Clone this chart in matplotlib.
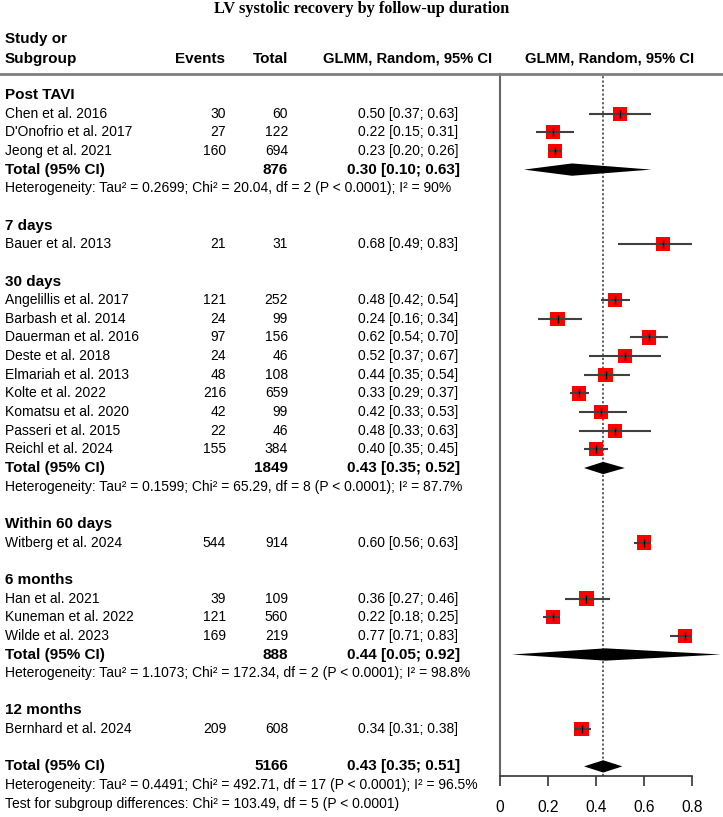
import matplotlib
matplotlib.use("Agg")
import matplotlib.pyplot as plt
from matplotlib.transforms import blended_transform_factory
from matplotlib.lines import Line2D

plt.rcParams['font.family'] = ['Liberation Sans', 'DejaVu Sans']

# ---------------- data ----------------
group_names = ["Post TAVI", "7 days", "30 days", "Within 60 days", "6 months", "12 months"]

study_group = [0, 0, 0, 1, 2, 2, 2, 2, 2, 2, 2, 2, 2, 3, 4, 4, 4, 5]
study_names = ["Chen et al. 2016", "D'Onofrio et al. 2017", "Jeong et al. 2021",
               "Bauer et al. 2013",
               "Angelillis et al. 2017", "Barbash et al. 2014", "Dauerman et al. 2016",
               "Deste et al. 2018", "Elmariah et al. 2013", "Kolte et al. 2022",
               "Komatsu et al. 2020", "Passeri et al. 2015", "Reichl et al. 2024",
               "Witberg et al. 2024",
               "Han et al. 2021", "Kuneman et al. 2022", "Wilde et al. 2023",
               "Bernhard et al. 2024"]
events = [30, 27, 160, 21, 121, 24, 97, 24, 48, 216, 42, 22, 155, 544, 39, 121, 169, 209]
totals = [60, 122, 694, 31, 252, 99, 156, 46, 108, 659, 99, 46, 384, 914, 109, 560, 219, 608]
est = [0.50, 0.22, 0.23, 0.68, 0.48, 0.24, 0.62, 0.52, 0.44, 0.33, 0.42, 0.48, 0.40,
       0.60, 0.36, 0.22, 0.77, 0.34]
lo = [0.37, 0.15, 0.20, 0.49, 0.42, 0.16, 0.54, 0.37, 0.35, 0.29, 0.33, 0.33, 0.35,
      0.56, 0.27, 0.18, 0.71, 0.31]
hi = [0.63, 0.31, 0.26, 0.83, 0.54, 0.34, 0.70, 0.67, 0.54, 0.37, 0.53, 0.63, 0.45,
      0.63, 0.46, 0.25, 0.83, 0.38]

# subgroup pooled results (only groups with >1 study)
sub_n = {0: 876, 2: 1849, 4: 888}
sub_est = {0: 0.30, 2: 0.43, 4: 0.44}
sub_lo = {0: 0.10, 2: 0.35, 4: 0.05}
sub_hi = {0: 0.63, 2: 0.52, 4: 0.92}
sub_het = {0: "Heterogeneity: Tau² = 0.2699; Chi² = 20.04, df = 2 (P < 0.0001); I² = 90%",
           2: "Heterogeneity: Tau² = 0.1599; Chi² = 65.29, df = 8 (P < 0.0001); I² = 87.7%",
           4: "Heterogeneity: Tau² = 1.1073; Chi² = 172.34, df = 2 (P < 0.0001); I² = 98.8%"}

overall_n = 5166
overall_est, overall_lo, overall_hi = 0.43, 0.35, 0.51
overall_het = "Heterogeneity: Tau² = 0.4491; Chi² = 492.71, df = 17 (P < 0.0001); I² = 96.5%"
subgroup_test = "Test for subgroup differences: Chi² = 103.49, df = 5 (P < 0.0001)"

xticks = [0, 0.2, 0.4, 0.6, 0.8]
xticklabels = ["0", "0.2", "0.4", "0.6", "0.8"]

# ---------------- layout ----------------
W, H = 723, 817
fig = plt.figure(figsize=(W / 100, H / 100), dpi=100)
ax_left, ax_right = 500, 692
ax_top, ax_bot = 74, 776
ax = fig.add_axes([ax_left / W, 1 - ax_bot / H, (ax_right - ax_left) / W, (ax_bot - ax_top) / H])
row_h = 18.65
row0 = 95
ax.set_ylim((ax_bot - row0) / row_h, (ax_top - row0) / row_h)
ax.set_xlim(0, 0.8)

FS = 10
FSB = 11
tr = blended_transform_factory(fig.transFigure, ax.transData)
X_STUDY = 5 / W
X_EV = 226 / W
X_TOT = 288 / W
X_CI = 458 / W

def txt(x, r, s, ha="left", bold=False, size=None):
    if size is None:
        size = FSB if bold else FS
    ax.text(x, r, s, transform=tr, ha=ha, va="center", fontsize=size,
            fontweight="bold" if bold else "normal", clip_on=False)

def diamond(r, e, l, h, hh=0.33):
    ax.fill([l, e, h, e], [r, r - hh, r, r + hh], color="black", clip_on=False, zorder=4,
            lw=0)

def fmt(e, l, h):
    return f"{e:.2f} [{l:.2f}; {h:.2f}]"

# headers
txt(X_STUDY, -3.02, "Study or", bold=True)
txt(X_STUDY, -1.95, "Subgroup", bold=True)
txt(225 / W, -1.95, "Events", ha="right", bold=True)
txt(X_TOT, -1.95, "Total", ha="right", bold=True)
txt(492 / W, -1.95, "GLMM, Random, 95% CI", ha="right", bold=True, size=10.6)
txt(610 / W, -1.95, "GLMM, Random, 95% CI", ha="center", bold=True, size=10.6)
fig.add_artist(Line2D([0, 1], [(ax_top - row0) / row_h] * 2, transform=tr,
                      color="#7f7f7f", lw=2))

r = 0
sq_rows, sq_est, sq_lo, sq_hi = [], [], [], []
for g, gname in enumerate(group_names):
    txt(X_STUDY, r, gname, bold=True)
    r += 1
    for i in range(len(study_names)):
        if study_group[i] != g:
            continue
        txt(X_STUDY, r, study_names[i])
        txt(X_EV, r, str(events[i]), ha="right")
        txt(X_TOT, r, str(totals[i]), ha="right")
        txt(X_CI, r, fmt(est[i], lo[i], hi[i]), ha="right")
        sq_rows.append(r); sq_est.append(est[i]); sq_lo.append(lo[i]); sq_hi.append(hi[i])
        r += 1
    if g in sub_n:
        txt(X_STUDY, r, "Total (95% CI)", bold=True)
        txt(X_TOT, r, str(sub_n[g]), ha="right", bold=True)
        txt(X_CI + 2 / W, r, fmt(sub_est[g], sub_lo[g], sub_hi[g]), ha="right", bold=True)
        diamond(r, sub_est[g], sub_lo[g], sub_hi[g])
        r += 1
        txt(X_STUDY, r, sub_het[g])
        r += 1
    r += 1

txt(X_STUDY, r, "Total (95% CI)", bold=True)
txt(X_TOT, r, str(overall_n), ha="right", bold=True)
txt(X_CI + 2 / W, r, fmt(overall_est, overall_lo, overall_hi), ha="right", bold=True)
diamond(r, overall_est, overall_lo, overall_hi)
txt(X_STUDY, r + 1, overall_het)
txt(X_STUDY, r + 2, subgroup_test)

# study markers
ax.scatter(sq_est, sq_rows, marker="s", s=105, color="#ff0000", edgecolors="none", zorder=2)
ax.hlines(sq_rows, sq_lo, sq_hi, color="#404040", lw=1.5, zorder=3)
ax.scatter(sq_est, sq_rows, marker="|", s=30, color="black", lw=1.0, zorder=3)

ax.axvline(overall_est, color="#555555", ls=(0, (1.2, 1.2)), lw=1.3, zorder=1)

# axes styling
for s in ["top", "right"]:
    ax.spines[s].set_visible(False)
ax.spines["left"].set_color("#666666")
ax.spines["left"].set_linewidth(1.5)
ax.spines["bottom"].set_color("#333333")
ax.spines["bottom"].set_linewidth(1.2)
ax.set_yticks([])
ax.set_xticks(xticks)
ax.set_xticklabels(xticklabels, fontsize=11.2)
ax.tick_params(axis="x", length=7.2, width=1.2, color="#333333", pad=10)
ax.patch.set_alpha(0)

fig.text(0.5, 1 - 9 / H, "LV systolic recovery by follow-up duration", ha="center", va="center",
         fontsize=11.7, fontweight="bold", family="Liberation Serif")

fig.savefig("out.png", dpi=100)
